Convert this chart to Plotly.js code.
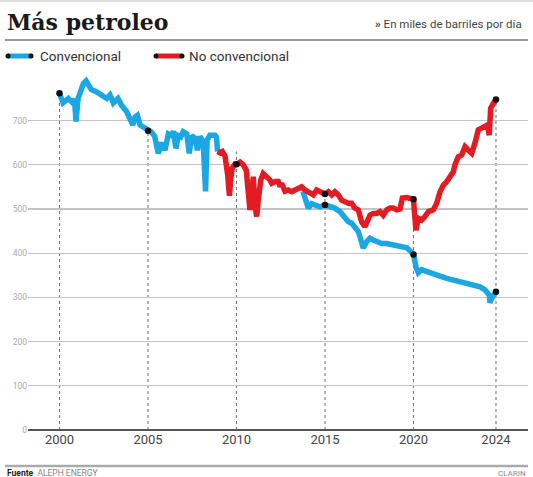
<!DOCTYPE html>
<html><head><meta charset="utf-8">
<script src="https://cdn.plot.ly/plotly-3.0.1.min.js"></script>
<style>html,body{margin:0;padding:0;background:#fff}#c{width:533px;height:477px}</style>
</head><body><div id="c"></div>
<script>
// Convencional (miles de barriles por día)
const convYears = [2000.00,2000.2,2000.5,2000.7,2000.85,2000.93,2001.05,2001.25,2001.35,2001.5,2001.65,2001.8,2002.1,2002.38,2002.67,2002.85,2003.04,2003.3,2003.5,2003.8,2003.98,2004.14,2004.27,2004.4,2004.55,2004.83,2005.0,2005.2,2005.38,2005.58,2005.77,2005.96,2006.15,2006.34,2006.43,2006.58,2006.71,2006.85,2006.99,2007.19,2007.33,2007.47,2007.66,2007.79,2007.94,2008.12,2008.25,2008.34,2008.5,2008.79,2008.87,2008.93,2011.0,2013.75,2013.85,2014.06,2014.25,2014.49,2014.72,2015.0,2015.28,2015.56,2015.85,2016.13,2016.32,2016.5,2016.69,2016.88,2017.03,2017.16,2017.36,2017.54,2017.73,2017.92,2018.2,2018.49,2018.77,2019.05,2019.33,2019.62,2019.9,2020.0,2020.14,2020.27,2020.46,2020.75,2021.12,2021.5,2021.88,2022.25,2022.63,2023.0,2023.38,2023.76,2024.04,2024.28,2024.32,2024.42,2024.66];
const convValues = [762,740,750,742,748,698,750,772,784,790,780,770,765,757,750,758,740,750,735,720,702,690,708,712,690,683,677,674,664,626,650,633,670,666,676,637,666,663,675,670,626,666,660,633,664,652,540,656,667,667,663,630,null,540,524,502,512,509,505,509,505,502,494,479,471,468,460,449,430,412,426,434,430,426,422,422,419,415,415,412,402,397,369,356,363,358,352,348,343,339,336,332,328,324,317,305,288,298,313];
// No convencional (línea superior)
const noConvYears = [2008.93,2009.07,2009.2,2009.35,2009.5,2009.6,2009.67,2009.76,2009.92,2010.0,2010.2,2010.38,2010.55,2010.67,2010.76,2010.86,2010.95,2011.05,2011.14,2011.23,2011.37,2011.51,2011.71,2011.89,2011.99,2012.18,2012.36,2012.46,2012.55,2012.74,2012.93,2013.12,2013.31,2013.49,2013.68,2013.87,2014.15,2014.34,2014.53,2014.75,2015.0,2015.19,2015.38,2015.56,2015.75,2015.94,2016.13,2016.32,2016.5,2016.69,2016.88,2017.07,2017.26,2017.36,2017.54,2017.73,2017.92,2018.11,2018.29,2018.49,2018.67,2018.86,2019.05,2019.24,2019.37,2019.62,2019.8,2020.0,2020.05,2020.14,2020.27,2020.46,2020.65,2020.84,2021.12,2021.31,2021.5,2021.69,2021.88,2022.06,2022.25,2022.34,2022.53,2022.72,2022.91,2023.1,2023.29,2023.47,2023.66,2023.85,2024.04,2024.17,2024.28,2024.36,2024.51,2024.66];
const noConvValues = [630,627,630,620,578,530,566,593,602,601,606,600,588,543,498,536,573,505,483,520,565,580,573,566,558,562,562,551,558,540,543,539,543,547,550,543,535,532,543,540,534,539,532,539,532,520,516,513,513,502,498,471,460,471,486,490,490,494,486,498,502,502,498,500,525,526,524,522,494,452,479,475,483,494,498,513,539,554,562,573,584,600,618,622,641,633,626,649,679,683,686,690,667,728,739,748];
// Años marcados (puntos negros y líneas punteadas)
const markYears = [2000, 2005, 2010, 2015, 2020, 2024.66];
const markLabels = ['2000','2005','2010','2015','2020','2024'];
const convMarkYears = [2000, 2005, 2015, 2020, 2024.66];
const noConvMarkYears = [2010, 2015, 2020, 2024.66];
const yTicks = [0,100,200,300,400,500,600,700];

const BLUE = '#1ba6e4', RED = '#e31b23';
function valAt(xs, ys, x){
  let best=-1, d=1e9;
  xs.forEach((v,i)=>{ if(ys[i]!=null && Math.abs(v-x)<d){d=Math.abs(v-x);best=i;} });
  return ys[best];
}
const W=533,H=477,L=28,R=5,T=75,B=47;
const pw=W-L-R, ph=H-T-B;
const px = x => (x-L)/pw;
const py = y => (H-B-y)/ph;

const shapes = [];
markYears.forEach(yr=>{
  const top = Math.max(valAt(convYears,convValues,yr)||0, (yr>=2008.9?valAt(noConvYears,noConvValues,yr):0)||0);
  shapes.push({type:'line',xref:'x',yref:'y',x0:yr,x1:yr,y0:0,y1:top,layer:'below',line:{color:'#777',width:1.1,dash:'dot'}});
});
// header / footer rules
shapes.push({type:'line',xref:'paper',yref:'paper',x0:px(0),x1:px(533),y0:py(1),y1:py(1),line:{color:'#bbb',width:1}});
shapes.push({type:'line',xref:'paper',yref:'paper',x0:px(5),x1:px(528),y0:py(40),y1:py(40),line:{color:'#999',width:2}});
shapes.push({type:'line',xref:'paper',yref:'paper',x0:px(5),x1:px(528),y0:py(466),y1:py(466),line:{color:'#aaa',width:2.5}});
// legend keys
[[8,31,BLUE],[156,182,RED]].forEach(([a,b,c])=>{
  shapes.push({type:'line',xref:'paper',yref:'paper',x0:px(a),x1:px(b),y0:py(56),y1:py(56),line:{color:c,width:5}});
  [a,b].forEach(xx=>shapes.push({type:'circle',xref:'paper',yref:'paper',x0:px(xx-2.5),x1:px(xx+2.5),y0:py(53.5),y1:py(58.5),fillcolor:'#111',line:{width:0}}));
});

const ann = [
  {text:'<b>Más petroleo</b>',x:px(5),y:py(22),xanchor:'left',yanchor:'middle',font:{family:'DejaVu Serif',size:22,color:'#1a1a1a'}},
  {text:'<b>»</b> En miles de barriles por día',x:px(524),y:py(24),xanchor:'right',yanchor:'middle',font:{family:'Roboto',size:11.5,color:'#444'}},
  {text:'Convencional',x:px(38),y:py(56),xanchor:'left',yanchor:'middle',font:{family:'Roboto',size:13.5,color:'#333'}},
  {text:'No convencional',x:px(187),y:py(56),xanchor:'left',yanchor:'middle',font:{family:'Roboto',size:13.5,color:'#333'}},
  {text:'<b>Fuente</b>  <span style="color:#888">ALEPH ENERGY</span>',x:px(5),y:py(473),xanchor:'left',yanchor:'middle',font:{family:'Roboto',size:8.5,color:'#222'}},
  {text:'CLARIN',x:px(528),y:py(473),xanchor:'right',yanchor:'middle',font:{family:'Roboto',size:8,color:'#888'}}
].map(a=>Object.assign({xref:'paper',yref:'paper',showarrow:false},a));

const dotsConvY = convMarkYears.map(y=>valAt(convYears,convValues,y));
const dotsNoY = noConvMarkYears.map(y=>valAt(noConvYears,noConvValues,y));

const data = [
  {x:convYears,y:convValues,type:'scatter',mode:'lines',line:{color:BLUE,width:5.5},connectgaps:false,hoverinfo:'skip'},
  {x:noConvYears,y:noConvValues,type:'scatter',mode:'lines',line:{color:RED,width:5.5},hoverinfo:'skip'},
  {x:convMarkYears.concat(noConvMarkYears),y:dotsConvY.concat(dotsNoY),type:'scatter',mode:'markers',marker:{color:'#111',size:6.5},hoverinfo:'skip'}
];

const layout = {
  width:W,height:H,margin:{l:L,r:R,t:T,b:B},
  paper_bgcolor:'#fff',plot_bgcolor:'#fff',showlegend:false,
  xaxis:{range:[2000+(L-59.5)/17.7, 2000+(W-R-59.5)/17.7],tickvals:markYears,ticktext:markLabels,showgrid:false,zeroline:false,showline:false,ticks:'',
         tickfont:{family:'Roboto',size:13,color:'#444'}},
  yaxis:{range:[0,(430-T)/0.442],tickvals:yTicks,showgrid:true,gridcolor:'#c4c4c4',gridwidth:1.3,zeroline:true,zerolinecolor:'#555',zerolinewidth:1.5,
         showline:false,ticks:'',tickfont:{family:'Roboto',size:8.5,color:'#aaa'}},
  shapes:shapes,annotations:ann
};
Plotly.newPlot('c',data,layout,{staticPlot:true,displayModeBar:false});
</script></body></html>
